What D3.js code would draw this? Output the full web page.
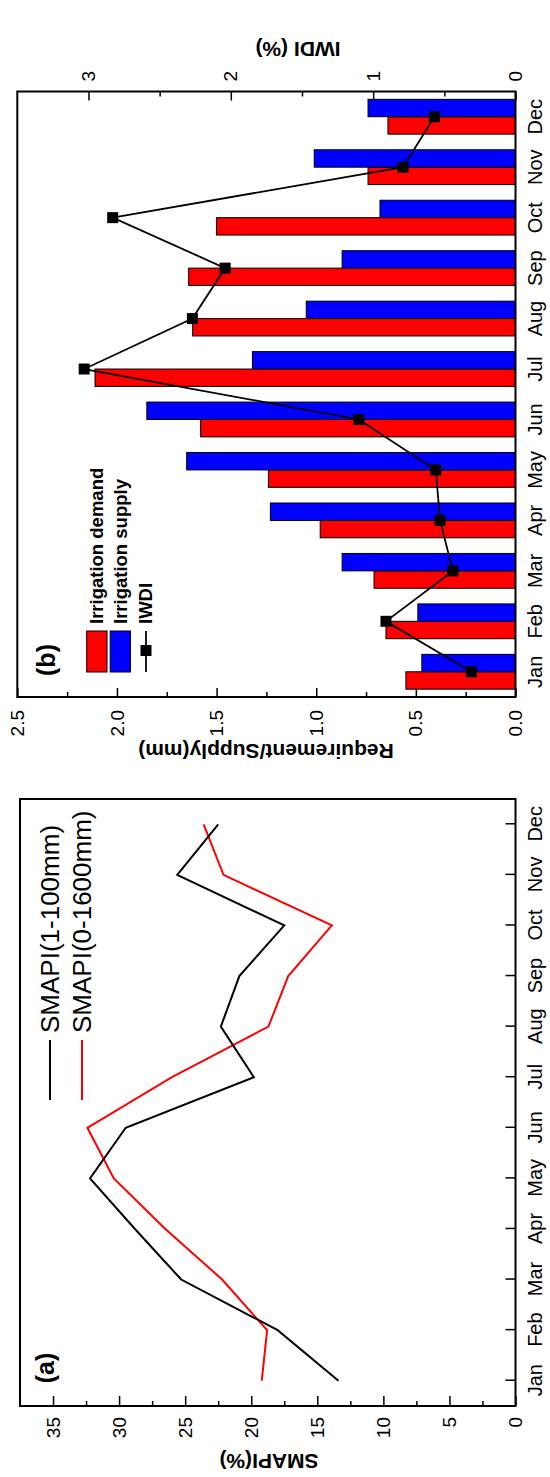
<!doctype html>
<html>
<head>
<meta charset="utf-8">
<script src="https://d3js.org/d3.v7.min.js"></script>
<style>
  body { margin: 0; background: #fff; }
  text { font-family: "Liberation Sans", Arial, sans-serif; fill: #000; }
</style>
</head>
<body>
<script>

  // data
  var months = ["Jan","Feb","Mar","Apr","May","Jun","Jul","Aug","Sep","Oct","Nov","Dec"];
  var demand = [0.55, 0.65, 0.71, 0.98, 1.24, 1.58, 2.11, 1.62, 1.64, 1.50, 0.74, 0.64];
  var supply = [0.47, 0.49, 0.87, 1.23, 1.65, 1.85, 1.32, 1.05, 0.87, 0.68, 1.01, 0.74];
  var iwdi   = [0.31, 0.91, 0.44, 0.53, 0.56, 1.10, 3.03, 2.27, 2.04, 2.83, 0.79, 0.57];
  var smapi1 = [13.4, 18.0, 25.3, 28.8, 32.2, 29.5, 19.8, 22.3, 20.9, 17.5, 25.6, 22.5];
  var smapi2 = [19.2, 18.8, 22.2, 26.5, 30.4, 32.4, 26.0, 18.7, 17.2, 13.9, 22.1, 23.6];

  var reqTicks   = [0, 0.5, 1.0, 1.5, 2.0, 2.5];
  var reqMinor   = [0.25, 0.75, 1.25, 1.75, 2.25];
  var iwdiTicks  = [0, 1, 2, 3];
  var iwdiMinor  = [0.5, 1.5, 2.5];
  var smapiTicks = [0, 5, 10, 15, 20, 25, 30, 35];
  var smapiMinor = [2.5, 7.5, 12.5, 17.5, 22.5, 27.5, 32.5];

  var svg = d3.select("body").append("svg")
      .attr("width", 550)
      .attr("height", 1477);

  // the figure is drawn landscape, then turned a quarter turn
  var fig = svg.append("g")
      .attr("transform", "translate(0,1477) rotate(-90)");

  function styleAxis(g, size) {
    g.select(".domain").remove();
    g.selectAll("line").attr("stroke", "#000").attr("stroke-width", 1.5);
    g.selectAll("text")
      .attr("font-family", "'Liberation Sans', Arial, sans-serif")
      .attr("font-size", size)
      .attr("fill", "#000");
  }

  // ---------- panel (b) ----------
  var xb = d3.scaleBand().domain(months).range([780, 1385.5]);
  var yb = d3.scaleLinear().domain([0, 2.5]).range([515.5, 17.3]);
  var yi = d3.scaleLinear().domain([0, 3.5]).range([515.5, 17.3]);
  var bw = 17.4;

  var gb = fig.append("g");

  gb.selectAll(".dem")
      .data(demand)
      .enter().append("rect")
      .attr("class", "dem")
      .attr("x", function (d, i) { return xb(months[i]) + xb.bandwidth() / 2 - bw; })
      .attr("y", function (d) { return yb(d); })
      .attr("width", bw)
      .attr("height", function (d) { return yb(0) - yb(d); })
      .attr("fill", "#ff0000")
      .attr("stroke", "#000")
      .attr("stroke-width", 1);

  gb.selectAll(".sup")
      .data(supply)
      .enter().append("rect")
      .attr("class", "sup")
      .attr("x", function (d, i) { return xb(months[i]) + xb.bandwidth() / 2; })
      .attr("y", function (d) { return yb(d); })
      .attr("width", bw)
      .attr("height", function (d) { return yb(0) - yb(d); })
      .attr("fill", "#0000ff")
      .attr("stroke", "#000")
      .attr("stroke-width", 1);

  var iwdiLine = d3.line()
      .x(function (d, i) { return xb(months[i]) + xb.bandwidth() / 2; })
      .y(function (d) { return yi(d); });

  gb.append("path")
      .attr("d", iwdiLine(iwdi))
      .attr("fill", "none")
      .attr("stroke", "#000")
      .attr("stroke-width", 1.8);

  gb.selectAll(".mk")
      .data(iwdi)
      .enter().append("rect")
      .attr("class", "mk")
      .attr("x", function (d, i) { return xb(months[i]) + xb.bandwidth() / 2 - 5.5; })
      .attr("y", function (d) { return yi(d) - 5.5; })
      .attr("width", 11)
      .attr("height", 11)
      .attr("fill", "#000");

  // axes (b)
  gb.append("g").attr("transform", "translate(780,0)")
      .call(d3.axisLeft(yb).tickValues(reqTicks).tickSize(-9).tickPadding(13).tickFormat(d3.format(".1f")))
      .call(styleAxis, 19);
  gb.append("g").attr("transform", "translate(780,0)")
      .call(d3.axisLeft(yb).tickValues(reqMinor).tickSize(-5).tickFormat(""))
      .call(styleAxis, 19);
  gb.append("g").attr("transform", "translate(1385.5,0)")
      .call(d3.axisRight(yi).tickValues(iwdiTicks).tickSize(-9).tickPadding(10).tickFormat(d3.format("d")))
      .call(styleAxis, 19);
  gb.append("g").attr("transform", "translate(1385.5,0)")
      .call(d3.axisRight(yi).tickValues(iwdiMinor).tickSize(-5).tickFormat(""))
      .call(styleAxis, 19);
  gb.append("g").attr("transform", "translate(0,515.5)")
      .call(d3.axisBottom(xb).tickSize(0).tickPadding(12))
      .call(styleAxis, 20);

  gb.append("rect")
      .attr("x", 780).attr("y", 17.3)
      .attr("width", 605.5).attr("height", 498.2)
      .attr("fill", "none").attr("stroke", "#000").attr("stroke-width", 2);

  gb.append("text")
      .attr("transform", "translate(726,266) rotate(-90)")
      .attr("text-anchor", "middle").attr("dy", "0.35em")
      .style("font-size", "21px").style("font-weight", "bold")
      .text("Requirement/Supply(mm)");

  gb.append("text")
      .attr("transform", "translate(1428,298) rotate(-90)")
      .attr("text-anchor", "middle").attr("dy", "0.35em")
      .style("font-size", "21px").style("font-weight", "bold")
      .text("IWDI (%)");

  gb.append("text")
      .attr("x", 817).attr("y", 46)
      .attr("text-anchor", "middle").attr("dy", "0.35em")
      .style("font-size", "25px").style("font-weight", "bold")
      .text("(b)");

  // legend (b)
  gb.append("rect").attr("x", 805).attr("y", 86.7).attr("width", 41).attr("height", 20.3)
      .attr("fill", "#ff0000").attr("stroke", "#000").attr("stroke-width", 1);
  gb.append("rect").attr("x", 805).attr("y", 110.2).attr("width", 41).attr("height", 20.3)
      .attr("fill", "#0000ff").attr("stroke", "#000").attr("stroke-width", 1);
  gb.append("line").attr("x1", 805).attr("x2", 846).attr("y1", 146).attr("y2", 146)
      .attr("stroke", "#000").attr("stroke-width", 1.8);
  gb.append("rect").attr("x", 821).attr("y", 140.5).attr("width", 11).attr("height", 11)
      .attr("fill", "#000");

  var legB = ["Irrigation demand", "Irrigation supply", "IWDI"];
  var legBy = [97, 120.3, 146];
  gb.selectAll(".legb")
      .data(legB)
      .enter().append("text")
      .attr("x", 853)
      .attr("y", function (d, i) { return legBy[i]; })
      .attr("dy", "0.35em")
      .style("font-size", "18.5px").style("font-weight", "bold")
      .text(function (d) { return d; });

  // ---------- panel (a) ----------
  var xa = d3.scalePoint().domain(months).range([71, 678]).padding(0.5);
  var ya = d3.scaleLinear().domain([0, 37.5]).range([515.5, 20]);

  var ga = fig.append("g");

  var smLine = d3.line()
      .x(function (d, i) { return xa(months[i]); })
      .y(function (d) { return ya(d); });

  ga.append("path")
      .attr("d", smLine(smapi2))
      .attr("fill", "none")
      .attr("stroke", "#ff0000")
      .attr("stroke-width", 2);

  ga.append("path")
      .attr("d", smLine(smapi1))
      .attr("fill", "none")
      .attr("stroke", "#000")
      .attr("stroke-width", 2);

  ga.append("g").attr("transform", "translate(71,0)")
      .call(d3.axisLeft(ya).tickValues(smapiTicks).tickSize(-10).tickPadding(11).tickFormat(d3.format("d")))
      .call(styleAxis, 19);
  ga.append("g").attr("transform", "translate(71,0)")
      .call(d3.axisLeft(ya).tickValues(smapiMinor).tickSize(-5).tickFormat(""))
      .call(styleAxis, 19);
  ga.append("g").attr("transform", "translate(0,515.5)")
      .call(d3.axisBottom(xa).tickSize(-10).tickPadding(12))
      .call(styleAxis, 20);

  ga.append("rect")
      .attr("x", 71).attr("y", 20)
      .attr("width", 607).attr("height", 495.5)
      .attr("fill", "none").attr("stroke", "#000").attr("stroke-width", 2);

  ga.append("text")
      .attr("transform", "translate(16,269) rotate(-90)")
      .attr("text-anchor", "middle").attr("dy", "0.35em")
      .style("font-size", "21px").style("font-weight", "bold")
      .text("SMAPI(%)");

  ga.append("text")
      .attr("x", 109).attr("y", 45)
      .attr("text-anchor", "middle").attr("dy", "0.35em")
      .style("font-size", "25px").style("font-weight", "bold")
      .text("(a)");

  // legend (a)
  var legA = ["SMAPI(1-100mm)", "SMAPI(0-1600mm)"];
  var legAc = ["#000", "#ff0000"];
  var legAy = [50, 82];
  legA.forEach(function (t, i) {
    ga.append("line")
        .attr("x1", 377).attr("x2", 437)
        .attr("y1", legAy[i]).attr("y2", legAy[i])
        .attr("stroke", legAc[i]).attr("stroke-width", 2);
    ga.append("text")
        .attr("x", 444).attr("y", legAy[i])
        .attr("dy", "0.35em")
        .style("font-size", "26px")
        .text(t);
  });

</script>
</body>
</html>
